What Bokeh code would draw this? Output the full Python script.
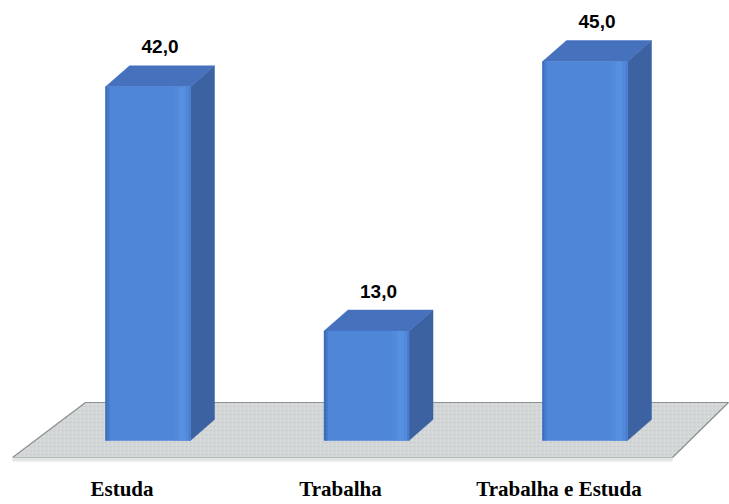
from bokeh.plotting import figure
from bokeh.models import Range1d, ColumnDataSource
from bokeh.core.properties import value
from bokeh.embed import file_html
from bokeh.resources import INLINE

# ---- data ----
categories = ["Estuda", "Trabalha", "Trabalha e Estuda"]
values = [42.0, 13.0, 45.0]
value_labels = ["42,0", "13,0", "45,0"]

# ---- layout constants (pixel scale of the data units) ----
PX_X = 218.5          # pixels per category step
PX_Y = 8.42           # pixels per value unit
X0_PX = 147.5         # pixel x of the first category centre
BASE_PX = 440.0       # pixel y of value 0
W, H = 729, 504

def dxu(px):
    return px / PX_X

def dyu(px):
    return px / PX_Y

x_start = -X0_PX / PX_X
y_start = -(H - BASE_PX) / PX_Y
p = figure(width=W, height=H, output_backend="svg", toolbar_location=None,
           x_range=Range1d(x_start, x_start + W / PX_X),
           y_range=Range1d(y_start, y_start + H / PX_Y),
           min_border=0)
p.axis.visible = False
p.grid.visible = False
p.outline_line_color = None
p.background_fill_color = "white"
p.border_fill_color = "white"

def px_to_x(px):
    return (px - X0_PX) / PX_X

def py_to_y(py):
    return (BASE_PX - py) / PX_Y

# ---- floor ----
ft, fb = py_to_y(402), py_to_y(457)
floor_x = [px_to_x(85), px_to_x(728), px_to_x(672), px_to_x(12)]
floor_y = [ft, ft, fb, fb]
p.patch(floor_x, floor_y, fill_color="#d5d9da", line_color="#8a8f90", line_width=1.2,
        hatch_pattern="dot", hatch_color="#b9bfc0", hatch_alpha=0.6, hatch_scale=4)
# front thickness strip of the floor
fs = py_to_y(461)
p.patch([px_to_x(12), px_to_x(672), px_to_x(672), px_to_x(12)], [fb, fb, fs, fs],
        fill_color="#e3e5e3", line_color=None)

# ---- bars ----
hw = dxu(42.5)
ddx = dxu(24)
ddy = dyu(21)
xs = list(range(len(values)))

side_x, side_y, top_x, top_y = [], [], [], []
for i, v in zip(xs, values):
    side_x.append([i + hw, i + hw + ddx, i + hw + ddx, i + hw])
    side_y.append([0, ddy, v + ddy, v])
    top_x.append([i - hw, i - hw + ddx, i + hw + ddx, i + hw])
    top_y.append([v, v + ddy, v + ddy, v])

p.patches(side_x, side_y, fill_color="#3c62a2", line_color="#3c62a2", line_width=0.5)
p.patches(top_x, top_y, fill_color="#4571bd", line_color="#4571bd", line_width=0.5)
p.quad(left=[i - hw for i in xs], right=[i + hw for i in xs], bottom=0, top=values,
       fill_color="#4f86d8", line_color="#4f86d8", line_width=0.5)
# soft shading strips on the front face
def strip(a, b, color):
    p.quad(left=[i - hw + dxu(a) for i in xs], right=[i - hw + dxu(b) for i in xs],
           bottom=0, top=values, fill_color=color, line_color=None)

strip(0, 2, "#3d6cbb")
strip(2, 4, "#4679c8")
strip(68, 73, "#5289db")
strip(73, 80, "#5690e0")
strip(80, 83, "#5289db")
strip(83, 85, "#4a7ecd")

# ---- value labels ----
vsrc = ColumnDataSource(dict(
    x=[i + ddx / 2 for i in xs],
    y=[v + ddy + dyu(19) for v in values],
    t=value_labels))
p.text(x="x", y="y", text="t", source=vsrc, text_align="center",
       text_baseline="middle", text_font=value("Liberation Sans"),
       text_font_style="bold", text_font_size="19px", text_color="black")

# ---- category labels ----
csrc = ColumnDataSource(dict(
    x=[i - dxu(26) for i in xs],
    y=[py_to_y(488)] * len(xs),
    t=categories))
p.text(x="x", y="y", text="t", source=csrc, text_align="center",
       text_baseline="middle", text_font=value("Liberation Serif"),
       text_font_style="bold", text_font_size="21px", text_color="black")

open("out.html", "w").write(file_html(p, INLINE))
